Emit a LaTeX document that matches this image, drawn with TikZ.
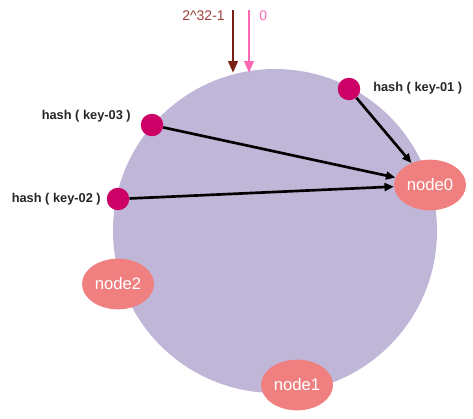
\documentclass[tikz,border=0pt]{standalone}
\usepackage{fontspec}
\setmainfont{Liberation Sans}
\usetikzlibrary{arrows.meta}
\definecolor{ringfill}{RGB}{192,182,216}
\definecolor{keydot}{RGB}{204,0,102}
\definecolor{nodefill}{RGB}{240,128,128}
\definecolor{maxred}{RGB}{123,31,20}
\definecolor{maxtext}{RGB}{160,64,58}
\definecolor{zeropink}{RGB}{255,105,180}
\tikzset{
  keypt/.style={circle,fill=keydot,minimum size=22.5pt*0.75,inner sep=0pt},
  server/.style={ellipse,fill=nodefill,minimum width=54pt,minimum height=38pt,inner sep=0pt,text=white,font=\fontsize{12.5}{14}\selectfont},
  keylabel/.style={font=\fontsize{9.6}{11}\bfseries\selectfont,text=black!85},
  maparrow/.style={-{Triangle[length=7pt,width=6pt]},line width=2pt,black}
}
\usetikzlibrary{shapes.geometric}
\begin{document}
\begin{tikzpicture}[x=0.75pt,y=-0.75pt]
			\useasboundingbox (0,0) rectangle (473,418);
			% hash ring
			\fill[ringfill] (275,231) circle (162);
			% start of ring
			\coordinate (maxtop) at (233,10);
			\coordinate (maxend) at (233,73);
			\coordinate (zerotop) at (249,10);
			\coordinate (zeroend) at (249,73);
			\draw[-{Triangle[length=9pt,width=7pt]},line width=2.2pt,maxred] (maxtop) -- (maxend);
			\draw[-{Triangle[length=9pt,width=7pt]},line width=2.2pt,zeropink] (zerotop) -- (zeroend);
			\node[text=maxtext,font=\fontsize{10.5}{12}\selectfont,anchor=east,inner sep=0pt] (maxlbl) at (225,16) {2\textasciicircum 32-1};
			\node[text=zeropink,font=\fontsize{10.5}{12}\selectfont,anchor=west,inner sep=0pt] (zerolbl) at (259,16) {0};
			% servers
			\node[server] (node0) at (430,185) {node0};
			\node[server] (node1) at (297,385) {node1};
			\node[server] (node2) at (118,284) {node2};
			% keys
			\node[keypt] (key1) at (349,89) {};
			\node[keypt] (key3) at (152,125) {};
			\node[keypt] (key2) at (118,199) {};
			\node[keylabel,anchor=west,inner sep=0pt] (key1lbl) at (373,88) {hash ( key-01 )};
			\node[keylabel,anchor=east,inner sep=0pt] (key3lbl) at (131,116) {hash ( key-03 )};
			\node[keylabel,anchor=east,inner sep=0pt] (key2lbl) at (101,199) {hash ( key-02 )};
			% mapping to next server
			\draw[maparrow] (key1) -- (node0);
			\draw[maparrow] (key3) -- (node0);
			\draw[maparrow] (key2) -- (node0);
		\end{tikzpicture}
\end{document}
